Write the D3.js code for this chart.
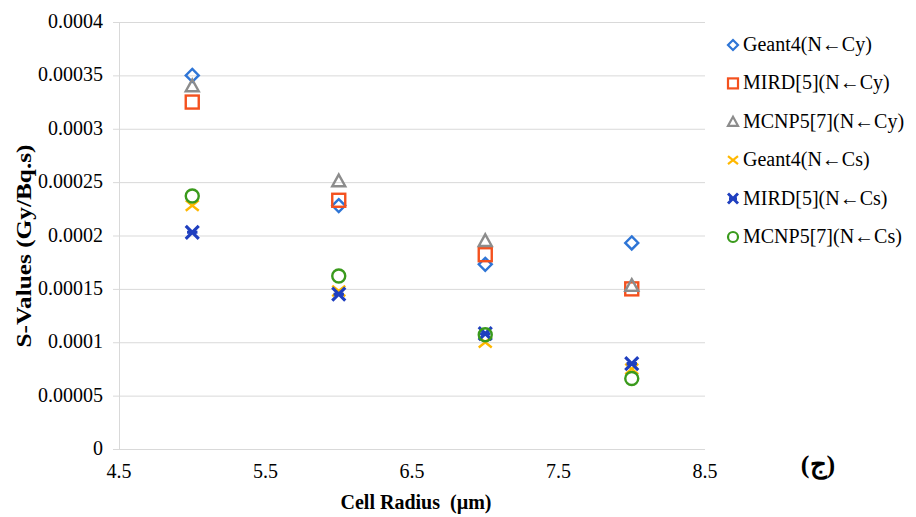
<!DOCTYPE html>
<html>
<head>
<meta charset="utf-8">
<script src="https://cdn.jsdelivr.net/npm/d3@7"></script>
<style>
  body { margin: 0; background: #fff; }
  svg text { font-family: "Liberation Serif", "DejaVu Serif", serif; fill: #000; white-space: pre; }
</style>
</head>
<body>
<svg id="chart" width="916" height="517"></svg>
<script>
// cell radius values (µm)
var radii = [5, 6, 7, 8];

// series values
var geantCy = [0.00035, 0.000228, 0.000173, 0.000193];
var mirdCy = [0.000325, 0.000233, 0.000182, 0.00015];
var mcnpCy = [0.00034, 0.000251, 0.000195, 0.000153];
var geantCs = [0.000228, 0.000148, 0.0001, 0.000075];
var mirdCs = [0.000203, 0.000145, 0.000108, 0.00008];
var mcnpCs = [0.000237, 0.000162, 0.000107, 0.000066];

var seriesNames = ['Geant4(N\u2190Cy)', 'MIRD[5](N\u2190Cy)', 'MCNP5[7](N\u2190Cy)',
                   'Geant4(N\u2190Cs)', 'MIRD[5](N\u2190Cs)', 'MCNP5[7](N\u2190Cs)'];
var seriesValues = [geantCy, mirdCy, mcnpCy, geantCs, mirdCs, mcnpCs];
var seriesColors = ['#2e75d6', '#f4511e', '#8c8c8c', '#ffb800', '#1f3fbf', '#3a9a1c'];
var seriesShapes = ['diamond', 'square', 'triangle', 'x', 'star', 'circle'];

var xTicks = [4.5, 5.5, 6.5, 7.5, 8.5];
var xTickLabels = ['4.5', '5.5', '6.5', '7.5', '8.5'];
var yTicks = [0, 0.00005, 0.0001, 0.00015, 0.0002, 0.00025, 0.0003, 0.00035, 0.0004];
var yTickLabels = ['0', '0.00005', '0.0001', '0.00015', '0.0002', '0.00025', '0.0003', '0.00035', '0.0004'];

var svg = d3.select('#chart');
var plotL = 119, plotR = 705, plotT = 22, plotB = 449;
var serif = '"Liberation Serif", "DejaVu Serif", serif';

var x = d3.scaleLinear().domain([4.5, 8.5]).range([plotL, plotR]);
var y = d3.scaleLinear().domain([0, 0.0004]).range([plotB, plotT]);

// gridlines
svg.append('g')
  .selectAll('line')
  .data(yTicks)
  .enter()
  .append('line')
    .attr('x1', plotL - 6)
    .attr('x2', plotR)
    .attr('y1', (d) => y(d) + 0.5)
    .attr('y2', (d) => y(d) + 0.5)
    .attr('stroke', '#d9d9d9')
    .attr('stroke-width', 1);

// left axis line
svg.append('line')
  .attr('x1', plotL + 0.5).attr('x2', plotL + 0.5)
  .attr('y1', plotT).attr('y2', plotB)
  .attr('stroke', '#d9d9d9');

// y tick labels
svg.append('g')
  .selectAll('text')
  .data(yTicks)
  .enter()
  .append('text')
    .attr('x', 103)
    .attr('y', (d) => y(d) + 6)
    .attr('text-anchor', 'end')
    .attr('font-family', serif)
    .attr('font-size', 20)
    .text((d, i) => yTickLabels[i]);

// x tick labels
svg.append('g')
  .selectAll('text')
  .data(xTicks)
  .enter()
  .append('text')
    .attr('x', (d) => x(d))
    .attr('y', 478)
    .attr('text-anchor', 'middle')
    .attr('font-family', serif)
    .attr('font-size', 20)
    .text((d, i) => xTickLabels[i]);

// axis titles
svg.append('text')
  .attr('x', 416)
  .attr('y', 509)
  .attr('text-anchor', 'middle')
  .attr('font-family', serif)
  .attr('font-size', 20)
  .attr('font-weight', 'bold')
  .text('Cell Radius  (\u00b5m)');

svg.append('text')
  .attr('transform', 'translate(31,246) rotate(-90)')
  .attr('text-anchor', 'middle')
  .attr('font-family', serif)
  .attr('font-size', 20)
  .attr('font-weight', 'bold')
  .attr('textLength', 203)
  .attr('lengthAdjust', 'spacingAndGlyphs')
  .text('S-Values (Gy/Bq.s)');

// arabic panel label
svg.append('text')
  .attr('x', 818)
  .attr('y', 473)
  .attr('text-anchor', 'middle')
  .attr('font-family', serif)
  .attr('font-size', 26)
  .attr('font-weight', 'bold')
  .text('(\u062c)');

// marker drawing
function drawMarker(g, shape, color, cx, cy, s, w) {
  if (shape === 'diamond') {
    g.append('path')
      .attr('d', 'M' + cx + ',' + (cy - s) + 'L' + (cx + s) + ',' + cy + 'L' + cx + ',' + (cy + s) + 'L' + (cx - s) + ',' + cy + 'Z')
      .attr('fill', 'none').attr('stroke', color).attr('stroke-width', w);
  } else if (shape === 'square') {
    g.append('rect')
      .attr('x', cx - s).attr('y', cy - s).attr('width', 2 * s).attr('height', 2 * s)
      .attr('fill', 'none').attr('stroke', color).attr('stroke-width', w);
  } else if (shape === 'triangle') {
    g.append('path')
      .attr('d', 'M' + cx + ',' + (cy - s) + 'L' + (cx + s) + ',' + (cy + s * 0.8) + 'L' + (cx - s) + ',' + (cy + s * 0.8) + 'Z')
      .attr('fill', 'none').attr('stroke', color).attr('stroke-width', w);
  } else if (shape === 'x') {
    g.append('path')
      .attr('d', 'M' + (cx - s) + ',' + (cy - s * 0.8) + 'L' + (cx + s) + ',' + (cy + s * 0.8) + 'M' + (cx + s) + ',' + (cy - s * 0.8) + 'L' + (cx - s) + ',' + (cy + s * 0.8))
      .attr('stroke', color).attr('stroke-width', w);
  } else if (shape === 'star') {
    // bold cross with a short bar through the middle
    g.append('path')
      .attr('d', 'M' + (cx - s) + ',' + (cy - s) + 'L' + (cx + s) + ',' + (cy + s) + 'M' + (cx + s) + ',' + (cy - s) + 'L' + (cx - s) + ',' + (cy + s) +
        'M' + (cx - s * 0.8) + ',' + cy + 'L' + (cx + s * 0.8) + ',' + cy)
      .attr('stroke', color).attr('stroke-width', w * 1.3);
  } else if (shape === 'circle') {
    g.append('circle')
      .attr('cx', cx).attr('cy', cy).attr('r', s)
      .attr('fill', 'none').attr('stroke', color).attr('stroke-width', w);
  }
}

// points, drawn series by series
var pts = svg.append('g');
seriesValues.forEach(function (vals, i) {
  vals.forEach(function (v, j) {
    drawMarker(pts, seriesShapes[i], seriesColors[i], x(radii[j]), y(v), 6.5, 2.4);
  });
});

// legend
var legend = svg.append('g');
seriesNames.forEach(function (name, i) {
  var ly = 45 + i * 38.4;
  drawMarker(legend, seriesShapes[i], seriesColors[i], 733, ly, 5, 2.2);
  legend.append('text')
    .attr('x', 743)
    .attr('y', ly + 6)
    .attr('font-family', serif)
    .attr('font-size', 20)
    .text(name);
});
</script>
</body>
</html>
